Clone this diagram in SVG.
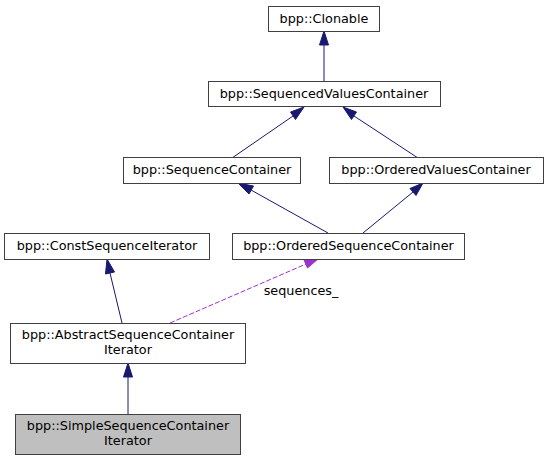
<svg xmlns="http://www.w3.org/2000/svg" width="548" height="460" viewBox="0 0 548 460">
<style>
.n rect{fill:#fff;stroke:#404040;stroke-width:1}
.n.sel rect{fill:#bfbfbf}
text{font-family:"DejaVu Sans",sans-serif;font-size:12.8px;fill:#000;text-anchor:middle}
.e{fill:none;stroke:#191970;stroke-width:1}
.d{fill:none;stroke:#9a32cd;stroke-width:1;stroke-dasharray:5,2}
.ah{fill:#191970;stroke:#191970}
.ahd{fill:#9a32cd;stroke:#9a32cd}
</style>
<rect width="548" height="460" fill="#fff"/>
<g id="edges">
<path class="e" d="M324,81 L324,45"/>
<polygon class="ah" points="319.5,45 324,31 328.5,45"/>
<path class="e" d="M232,158 L293,116"/>
<polygon class="ah" points="290.5,112 304,107 295.5,119.5"/>
<path class="e" d="M418,158 L354,116"/>
<polygon class="ah" points="351.5,119.5 343,107 356.5,112"/>
<path class="e" d="M328,233 L251,190"/>
<polygon class="ah" points="249,194 238,183 253.5,186"/>
<path class="e" d="M363,233 L413,192"/>
<polygon class="ah" points="410,188.5 423,183 416,195.5"/>
<path class="e" d="M122,323 L110,273"/>
<polygon class="ah" points="105.5,274 107,259 114.5,272"/>
<path class="d" d="M170,323 L306,264"/>
<polygon class="ahd" points="304,260 318,259 307.5,268"/>
<path class="e" d="M128,414 L128,377"/>
<polygon class="ah" points="123.5,377 128,363 132.5,377"/>
<text x="301" y="295">sequences_</text>
</g>
<g id="clonable" class="n"><rect x="268.5" y="6.5" width="111" height="25"/><text x="324" y="23">bpp::Clonable</text></g>
<g id="svc" class="n"><rect x="208.5" y="81.5" width="232" height="25"/><text x="324" y="98">bpp::SequencedValuesContainer</text></g>
<g id="sc" class="n"><rect x="123.5" y="157.5" width="177" height="26"/><text x="212" y="174">bpp::SequenceContainer</text></g>
<g id="ovc" class="n"><rect x="329.5" y="157.5" width="214" height="26"/><text x="436" y="174">bpp::OrderedValuesContainer</text></g>
<g id="csi" class="n"><rect x="4.5" y="233.5" width="205" height="26"/><text x="107" y="250">bpp::ConstSequenceIterator</text></g>
<g id="osc" class="n"><rect x="232.5" y="233.5" width="232" height="26"/><text x="348.5" y="250">bpp::OrderedSequenceContainer</text></g>
<g id="asci" class="n"><rect x="10.5" y="323.5" width="235" height="40"/><text x="128" y="339">bpp::AbstractSequenceContainer</text><text x="128" y="354">Iterator</text></g>
<g id="ssci" class="n sel"><rect x="15.5" y="414.5" width="225" height="40"/><text x="128" y="430">bpp::SimpleSequenceContainer</text><text x="128" y="445">Iterator</text></g>
</svg>
